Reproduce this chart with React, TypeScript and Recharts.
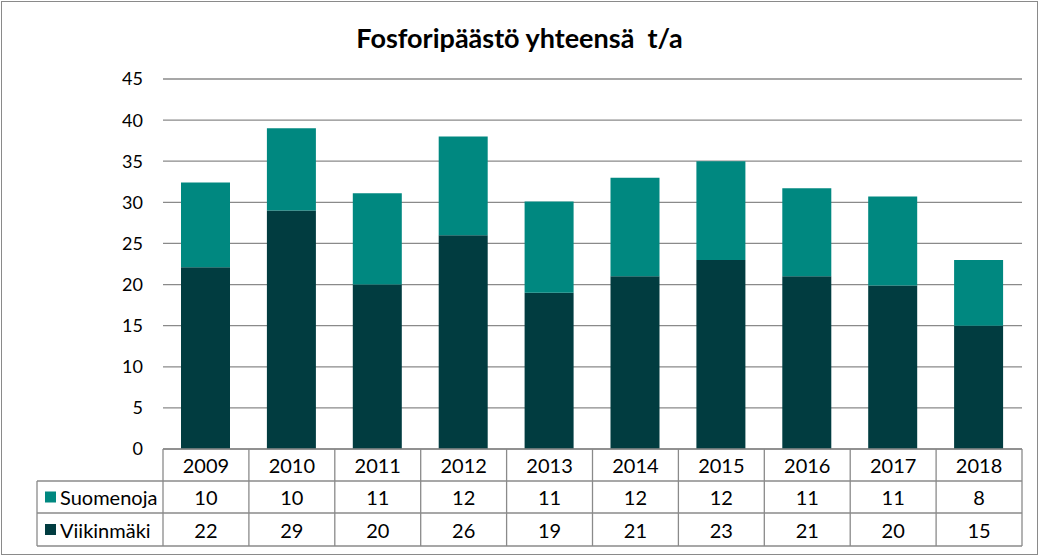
import React from "react";
import { BarChart, Bar, XAxis, YAxis, CartesianGrid } from "recharts";

const years = ["2009", "2010", "2011", "2012", "2013", "2014", "2015", "2016", "2017", "2018"];
const viikinmaki = [22.1, 29.0, 20.0, 26.0, 19.0, 21.0, 23.0, 21.0, 19.9, 15.0];
const suomenoja = [10.3, 10.0, 11.1, 12.0, 11.1, 12.0, 12.0, 10.7, 10.8, 8.0];
const yTicks = [0, 5, 10, 15, 20, 25, 30, 35, 40, 45];

const DARK = "#013C40";
const TEAL = "#008880";
const LINE = "#8a8a8a";
const FONT = "Lato, 'Open Sans', sans-serif";

const W = 1039;
const H = 556;
const PLOT_LEFT = 163;
const PLOT_RIGHT = 1022;
const PLOT_TOP = 79;
const PLOT_BOTTOM = 449;
const BAND = (PLOT_RIGHT - PLOT_LEFT) / years.length;
const ROW = [449, 481, 513, 546];
const LEG_LEFT = 37;

const data = years.map((year, i) => ({ year, viikinmaki: viikinmaki[i], suomenoja: suomenoja[i] }));

const series = [
  { name: "Suomenoja", values: suomenoja, color: TEAL },
  { name: "Viikinmäki", values: viikinmaki, color: DARK },
];

function TableTick(props: any) {
  const { x, payload } = props;
  const i = payload.index;
  const right = x + BAND / 2;
  const mid = (a: number, b: number) => (a + b) / 2;
  return (
    <g fontFamily={FONT} fontSize={20} fill="#000">
      <line x1={right} y1={ROW[0]} x2={right} y2={ROW[3]} stroke={LINE} strokeWidth={1.3} />
      {i === 0 && (
        <g>
          <line x1={PLOT_LEFT} y1={ROW[0]} x2={PLOT_RIGHT} y2={ROW[0]} stroke={LINE} strokeWidth={1.3} />
          {[ROW[1], ROW[2], ROW[3]].map((yy) => (
            <line key={yy} x1={LEG_LEFT} y1={yy} x2={PLOT_RIGHT} y2={yy} stroke={LINE} strokeWidth={1.3} />
          ))}
          <line x1={PLOT_LEFT} y1={ROW[0]} x2={PLOT_LEFT} y2={ROW[3]} stroke={LINE} strokeWidth={1.3} />
          <line x1={LEG_LEFT} y1={ROW[1]} x2={LEG_LEFT} y2={ROW[3]} stroke={LINE} strokeWidth={1.3} />
          {series.map((s, r) => (
            <g key={s.name}>
              <rect x={45} y={mid(ROW[r + 1], ROW[r + 2]) - 5.5} width={11} height={11} fill={s.color} />
              <text x={60} y={mid(ROW[r + 1], ROW[r + 2])} dominantBaseline="central" fill="#000">
                {s.name}
              </text>
            </g>
          ))}
        </g>
      )}
      <text x={x} y={mid(ROW[0], ROW[1])} textAnchor="middle" dominantBaseline="central" fill="#000">
        {payload.value}
      </text>
      {series.map((s, r) => (
        <text key={s.name} x={x} y={mid(ROW[r + 1], ROW[r + 2])} textAnchor="middle" dominantBaseline="central" fill="#000">
          {Math.round(s.values[i])}
        </text>
      ))}
    </g>
  );
}

export default function App() {
  return (
    <div style={{ position: "absolute", left: 0, top: 0, width: W, height: H, background: "#fff" }}>
      <div
        style={{
          position: "absolute",
          left: 1,
          top: 1,
          width: W - 4,
          height: H - 4,
          border: `1.5px solid ${LINE}`,
        }}
      />
      <div
        style={{
          position: "absolute",
          left: 0,
          top: 21,
          width: W,
          textAlign: "center",
          fontFamily: FONT,
          fontWeight: 700,
          fontSize: 27,
          color: "#000",
          whiteSpace: "pre",
        }}
      >
        {"Fosforipäästö yhteensä  t/a"}
      </div>
      <BarChart
        width={W}
        height={H}
        data={data}
        margin={{ top: PLOT_TOP, right: W - PLOT_RIGHT, left: PLOT_LEFT - 60, bottom: 10 }}
        barSize={49}
        style={{ position: "absolute", left: 0, top: 0 }}
      >
        <CartesianGrid vertical={false} stroke={LINE} strokeWidth={1.3} />
        <XAxis
          dataKey="year"
          interval={0}
          axisLine={false}
          tickLine={false}
          height={H - PLOT_BOTTOM - 10}
          tick={<TableTick />}
        />
        <YAxis
          width={60}
          domain={[0, 45]}
          ticks={yTicks}
          axisLine={false}
          tickLine={false}
          tickMargin={14}
          tick={{ fill: "#000", fontSize: 18, fontFamily: FONT }}
        />
        <Bar dataKey="viikinmaki" stackId="a" fill={DARK} isAnimationActive={false} />
        <Bar dataKey="suomenoja" stackId="a" fill={TEAL} isAnimationActive={false} />
      </BarChart>
    </div>
  );
}
